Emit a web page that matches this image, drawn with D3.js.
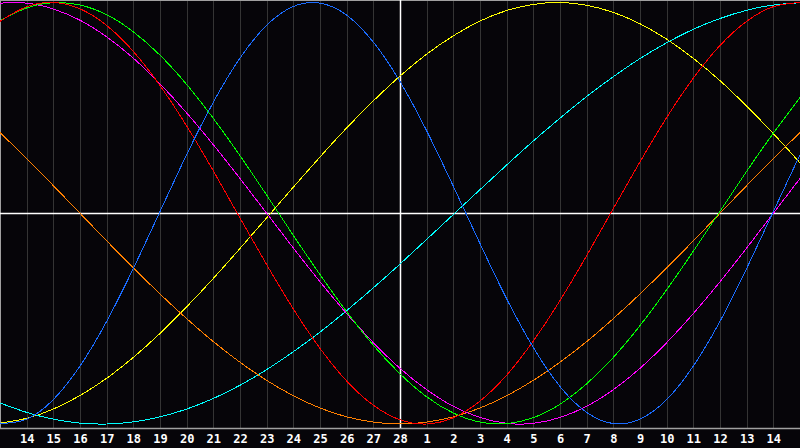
<!DOCTYPE html>
<html><head><meta charset="utf-8">
<script src="https://cdn.jsdelivr.net/npm/d3@7"></script>
<style>html,body{margin:0;padding:0;background:#060509;}svg{display:block;}</style>
</head><body><svg id="c" width="800" height="448"></svg>
<script>
// Day labels (14 Feb .. 14 Mar)
const dayLabels = ["14","15","16","17","18","19","20","21","22","23","24","25","26","27","28","1","2","3","4","5","6","7","8","9","10","11","12","13","14"];
// Values (-100..100) sampled at each day step u = 0..30 across the chart
const blue    = [-99.8,-97.7,-88.4,-72.5,-51.3,-26.2,0.8,27.8,52.7,73.6,89.2,98.1,99.7,94.0,81.2,62.5,39.1,12.8,-14.4,-40.6,-63.7,-82.2,-94.5,-99.8,-97.7,-88.4,-72.5,-51.3,-26.2,0.8,27.8];
const red     = [91.1,98.0,100.0,97.0,89.1,76.8,60.6,41.4,20.1,-2.3,-24.4,-45.4,-64.1,-79.6,-91.1,-98.0,-100.0,-97.0,-89.1,-76.8,-60.6,-41.4,-20.1,2.3,24.4,45.4,64.1,79.6,91.1,98.0,100.0];
const green   = [91.4,97.4,99.9,98.8,94.2,86.1,75.0,61.1,45.0,27.3,8.6,-10.5,-29.1,-46.7,-62.6,-76.2,-87.1,-94.8,-99.1,-99.8,-97.0,-90.6,-80.9,-68.4,-53.3,-36.3,-18.0,0.9,19.9,38.0,54.9];
const magenta = [99.7,99.7,96.9,91.6,83.7,73.6,61.4,47.6,32.5,16.5,0,-16.5,-32.5,-47.6,-61.4,-73.6,-83.7,-91.6,-96.9,-99.7,-99.7,-96.9,-91.6,-83.7,-73.6,-61.4,-47.6,-32.5,-16.5,0,16.5];
const yellow  = [-99.6,-97.3,-92.9,-86.5,-78.3,-68.4,-57.0,-44.4,-30.9,-16.7,-2.2,12.4,26.7,40.5,53.3,65.1,75.5,84.2,91.2,96.2,99.1,100.0,98.7,95.3,89.9,82.6,73.5,62.9,50.8,37.8,23.9];
const orange  = [38.3,25.9,13.1,0,-13.1,-25.9,-38.3,-50.0,-60.9,-70.7,-79.3,-86.6,-92.4,-96.6,-99.1,-100,-99.1,-96.6,-92.4,-86.6,-79.3,-70.7,-60.9,-50.0,-38.3,-25.9,-13.1,0,13.1,25.9,38.3];
const cyan    = [-90.0,-94.5,-97.7,-99.6,-100.0,-99.0,-96.6,-92.9,-87.9,-81.6,-74.2,-65.7,-56.4,-46.2,-35.4,-24.1,-12.4,-0.6,11.2,22.9,34.3,45.1,55.4,64.8,73.4,80.9,87.3,92.4,96.3,98.8,99.9];

const series = [
  {name:"aesthetic", values:yellow, color:"#ffff00"},
  {name:"spiritual", values:cyan, color:"#00ffff"},
  {name:"awareness", values:orange, color:"#ff8000"},
  {name:"intuitive", values:magenta, color:"#ff00ff"},
  {name:"intellectual", values:green, color:"#00ff00"},
  {name:"emotional", values:red, color:"#ff0000"},
  {name:"physical", values:blue, color:"#1a6cff"}
];

const svg = d3.select("#c");
const W = 800, axisY = 428;
const x = d3.scaleLinear().domain([0,30]).range([0,W]);
const y = d3.scaleLinear().domain([-100,100]).range([424,2.5]);

svg.append("rect").attr("width",W).attr("height",448).attr("fill","#060509");

// vertical grid
const ticks = d3.range(1,30);
svg.append("g").selectAll("line").data(ticks).join("line")
  .attr("x1",d=>Math.round(x(d))+0.5).attr("x2",d=>Math.round(x(d))+0.5)
  .attr("y1",0).attr("y2",axisY)
  .attr("stroke","#343434").attr("stroke-width",1);

// frame
svg.append("line").attr("x1",0).attr("x2",W).attr("y1",0.5).attr("y2",0.5).attr("stroke","#a0a0a0");
svg.append("line").attr("x1",0.5).attr("x2",0.5).attr("y1",0).attr("y2",axisY).attr("stroke","#a0a0a0");
svg.append("line").attr("x1",0).attr("x2",W).attr("y1",axisY+0.5).attr("y2",axisY+0.5).attr("stroke","#a0a0a0").attr("stroke-width",1.5);

// center lines
svg.append("line").attr("x1",0).attr("x2",W).attr("y1",213.5).attr("y2",213.5).attr("stroke","#ffffff").attr("stroke-width",1.5);
svg.append("line").attr("x1",x(15)+0.5).attr("x2",x(15)+0.5).attr("y1",0).attr("y2",axisY).attr("stroke","#ffffff").attr("stroke-width",1.5);

// curves
const line = d3.line().x((d,i)=>x(i)).y(d=>y(d)).curve(d3.curveNatural);
svg.append("g").selectAll("path").data(series).join("path")
  .attr("d",d=>line(d.values))
  .attr("fill","none").attr("stroke",d=>d.color).attr("stroke-width",1)
  .attr("shape-rendering","crispEdges");

// day labels
const xAxis = d3.axisBottom(x).tickValues(ticks).tickSize(0).tickFormat(d=>dayLabels[d-1]);
const gAx = svg.append("g").attr("transform",`translate(0,${axisY})`).call(xAxis);
gAx.select(".domain").remove();
gAx.selectAll("text").attr("y",15).attr("dy",0)
  .attr("fill","#ffffff").attr("font-family","'DejaVu Sans Mono', monospace")
  .attr("font-weight","bold").attr("font-size","12px").attr("text-anchor","middle");
</script></body></html>
